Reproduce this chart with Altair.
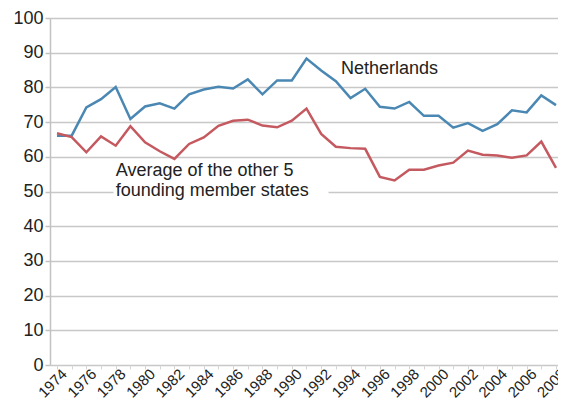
import altair as alt
import pandas as pd

years = list(range(1974, 2009))
netherlands = [66.1, 66.1, 74.2, 76.6, 80.1, 70.9, 74.5, 75.4, 73.9, 78.0,
               79.4, 80.2, 79.7, 82.3, 78.0, 82.0, 82.0, 88.3, 84.9, 81.8,
               76.9, 79.6, 74.4, 73.9, 75.8, 71.8, 71.8, 68.4, 69.7, 67.5,
               69.4, 73.4, 72.8, 77.7, 74.9]
others = [66.8, 65.7, 61.3, 65.9, 63.2, 68.8, 64.2, 61.6, 59.4, 63.7,
          65.6, 68.95, 70.4, 70.7, 69.0, 68.5, 70.4, 73.9, 66.6, 62.9,
          62.5, 62.3, 54.2, 53.2, 56.3, 56.3, 57.5, 58.3, 61.8, 60.6,
          60.4, 59.7, 60.4, 64.4, 56.8]
series_names = ["Netherlands", "Average of the other 5 founding member states"]
series_colors = ["#4a88b3", "#c45a60"]

label_texts = ["Netherlands", "Average of the other 5", "founding member states"]
label_x = [1993.35, 1978.0, 1978.0]
label_y = [84.0, 54.4, 48.7]

box_x = [1977.85]
box_x2 = [1992.5]
box_y = [58.8]
box_y2 = [47.0]

x_domain = [1973.523, 2008.137]

df = pd.DataFrame({
    "year": years * 2,
    "value": netherlands + others,
    "series": [series_names[0]] * len(years) + [series_names[1]] * len(years),
})
labels = pd.DataFrame({"x": label_x, "y": label_y, "text": label_texts})
box = pd.DataFrame({"x": box_x, "x2": box_x2, "y": box_y, "y2": box_y2})

FONT = "Liberation Sans"

x_scale = alt.Scale(domain=x_domain, nice=False, zero=False)
y_scale = alt.Scale(domain=[0, 100], nice=False)

x_axis = alt.Axis(
    values=years, labelExpr="datum.value % 2 == 0 ? toString(datum.value) : ''",
    labelAngle=-45, labelAlign="right", labelBaseline="top",
    labelFont=FONT, labelFontSize=15, labelColor="#222222",
    labelPadding=-3, labelOffset=2, labelOverlap=False, labelFlush=False,
    tickSize=4, tickColor="#d6d6d6", tickWidth=1,
    domain=False, grid=False, title=None,
)
y_axis = alt.Axis(
    values=list(range(0, 101, 10)), labelFont=FONT, labelFontSize=18,
    labelColor="#222222", labelPadding=2, tickSize=5, tickColor="#c2c2c2",
    tickWidth=1.5, domainColor="#c2c2c2", domainWidth=1.5,
    gridColor="#c8c8c8", gridWidth=1.5, title=None,
)

rect = alt.Chart(box).mark_rect(color="white").encode(
    x=alt.X("x:Q", scale=x_scale, axis=x_axis), x2="x2:Q",
    y=alt.Y("y:Q", scale=y_scale, axis=y_axis), y2="y2:Q",
)

lines = alt.Chart(df).mark_line(strokeWidth=2.5).encode(
    x=alt.X("year:Q", scale=x_scale, axis=x_axis),
    y=alt.Y("value:Q", scale=y_scale, axis=y_axis),
    color=alt.Color("series:N", scale=alt.Scale(domain=series_names, range=series_colors), legend=None),
    order=alt.Order("year:Q"),
)

text = alt.Chart(labels).mark_text(
    font=FONT, fontSize=18, color="#222222", align="left", baseline="alphabetic"
).encode(
    x=alt.X("x:Q", scale=x_scale, axis=x_axis),
    y=alt.Y("y:Q", scale=y_scale, axis=y_axis),
    text="text:N",
)

chart = alt.layer(rect, lines, text).properties(
    width=508, height=347,
    padding={"left": 42, "top": 10, "right": 0, "bottom": 35},
    autosize="none",
    background="white",
).configure_view(stroke=None)

chart.save("out.html", embed_options={"renderer": "svg", "actions": False})
